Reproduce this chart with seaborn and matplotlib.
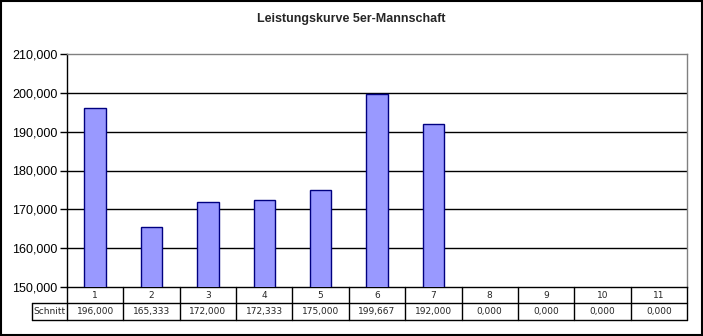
import matplotlib
matplotlib.use("Agg")
import matplotlib.pyplot as plt
import seaborn as sns
import pandas as pd
from matplotlib.patches import Rectangle
from matplotlib.lines import Line2D

# Mannschaftsschnitt je Spieltag
spieltage = ["1", "2", "3", "4", "5", "6", "7", "8", "9", "10", "11"]
schnitt = [196.000, 165.333, 172.000, 172.333, 175.000, 199.667, 192.000,
           0.000, 0.000, 0.000, 0.000]
reihe = "Schnitt"
titel = "Leistungskurve 5er-Mannschaft"
y_ticks = [150, 160, 170, 180, 190, 200, 210]

def de(v):
    return f"{v:.3f}".replace(".", ",")

sns.set_theme(style="white")
plt.rcParams["font.family"] = ["Liberation Sans", "DejaVu Sans"]

df = pd.DataFrame({"Spieltag": spieltage, "Schnitt": schnitt})

fig = plt.figure(figsize=(7.03, 3.36), dpi=100)
W, H = 703, 336
x0, x1, ytop, ybot = 67, 687, 54, 287
ax = fig.add_axes([x0 / W, 1 - ybot / H, (x1 - x0) / W, (ybot - ytop) / H])

sns.barplot(data=df, x="Spieltag", y="Schnitt", ax=ax, color="#9999FF",
            saturation=1, width=0.38, edgecolor="#000080", linewidth=1.0,
            zorder=3)

ax.set_ylim(150, 210)
ax.set_xlim(-0.5, len(spieltage) - 0.5)
ax.set_yticks(y_ticks)
ax.set_yticklabels([de(v) for v in y_ticks], fontsize=9, color="black")
ax.set_xticks([])
ax.set_xlabel("")
ax.set_ylabel("")
ax.tick_params(axis="y", length=5, width=1, color="black", direction="out",
               left=True, pad=2)
for v in y_ticks[1:-1]:
    ax.axhline(v, color="black", lw=1, zorder=1)
for side in ["top", "right"]:
    ax.spines[side].set_color("#808080")
    ax.spines[side].set_linewidth(1)
ax.spines["left"].set_color("black")
ax.spines["bottom"].set_color("black")
ax.spines["left"].set_linewidth(1)
ax.spines["bottom"].set_linewidth(1)

# Datentabelle unter der Grafik
def fx(px):
    return px / W

def fy(py):
    return 1 - py / H

r1_top, r1_bot, r2_bot = 287, 303, 320
lab_left = 32
n = len(spieltage)
cw = (x1 - x0) / n
lw = 1.0
fig.add_artist(Line2D([fx(lab_left), fx(x1)], [fy(r1_bot)] * 2, color="black", lw=lw))
fig.add_artist(Line2D([fx(lab_left), fx(x1)], [fy(r2_bot)] * 2, color="black", lw=lw))
fig.add_artist(Line2D([fx(lab_left)] * 2, [fy(r1_bot), fy(r2_bot)], color="black", lw=lw))
fig.add_artist(Line2D([fx(x0)] * 2, [fy(r1_top), fy(r2_bot)], color="black", lw=lw))
for i in range(1, n + 1):
    xx = x0 + i * cw
    fig.add_artist(Line2D([fx(xx)] * 2, [fy(r1_top), fy(r2_bot)],
                          color="black", lw=lw))
for i, (s, v) in enumerate(zip(spieltage, schnitt)):
    cx = x0 + (i + 0.5) * cw
    fig.text(fx(cx), fy((r1_top + r1_bot) / 2), s, ha="center", va="center",
             fontsize=6.5, family=["DejaVu Sans"])
    fig.text(fx(cx), fy((r1_bot + r2_bot) / 2), de(v), ha="center",
             va="center", fontsize=6.5, family=["DejaVu Sans"])
fig.text(fx((lab_left + x0) / 2), fy((r1_bot + r2_bot) / 2), reihe,
         ha="center", va="center", fontsize=6.5, family=["DejaVu Sans"])

fig.text(0.5, fy(19), titel, ha="center", va="center", fontsize=9,
         fontweight="bold")

# Rahmen um die ganze Grafik
fig.add_artist(Rectangle((0.001, 0.002), 0.997, 0.996, transform=fig.transFigure,
                         fill=False, edgecolor="black", lw=1.5))

fig.savefig("out.png", dpi=100)
